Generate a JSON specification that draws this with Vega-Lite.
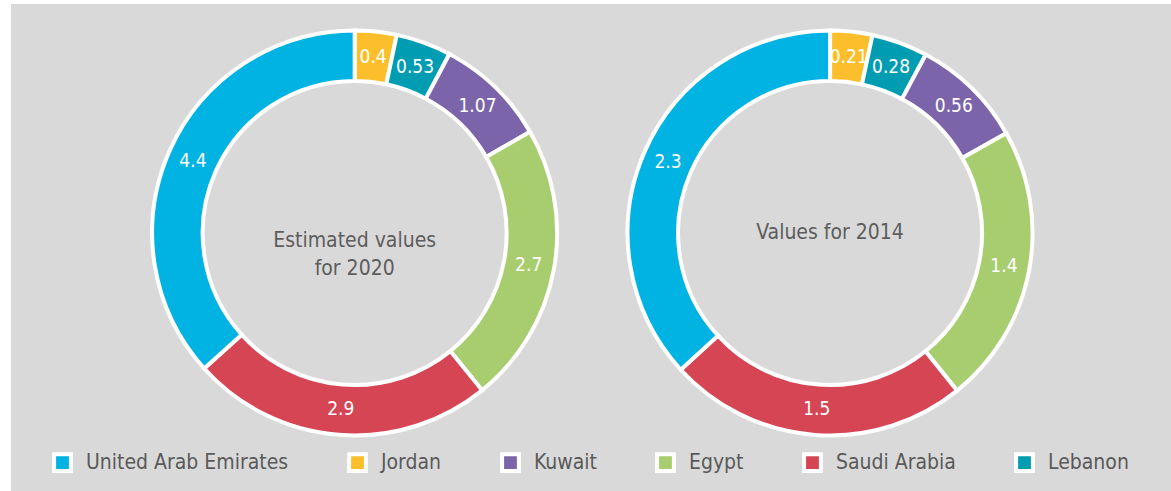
{
  "$schema": "https://vega.github.io/schema/vega-lite/v6.json",
  "width": 1171,
  "height": 491,
  "autosize": {"type": "fit", "contains": "padding"},
  "padding": {"left": 11, "top": 4, "right": 0, "bottom": 0},
  "background": "white",
  "config": {
    "view": {"stroke": null, "fill": "#d9d9d9"},
    "font": "'Liberation Sans Narrow', 'DejaVu Sans Condensed', 'DejaVu Sans', sans-serif"
  },
  "data": {
    "values": [
      {"panel": "2020", "country": "Jordan", "value": 0.4, "rank": 1},
      {"panel": "2020", "country": "Lebanon", "value": 0.53, "rank": 2},
      {"panel": "2020", "country": "Kuwait", "value": 1.07, "rank": 3},
      {"panel": "2020", "country": "Egypt", "value": 2.7, "rank": 4},
      {"panel": "2020", "country": "Saudi Arabia", "value": 2.9, "rank": 5},
      {"panel": "2020", "country": "United Arab Emirates", "value": 4.4, "rank": 6},
      {"panel": "2014", "country": "Jordan", "value": 0.21, "rank": 1},
      {"panel": "2014", "country": "Lebanon", "value": 0.28, "rank": 2},
      {"panel": "2014", "country": "Kuwait", "value": 0.56, "rank": 3},
      {"panel": "2014", "country": "Egypt", "value": 1.4, "rank": 4},
      {"panel": "2014", "country": "Saudi Arabia", "value": 1.5, "rank": 5},
      {"panel": "2014", "country": "United Arab Emirates", "value": 2.3, "rank": 6}
    ]
  },
  "encoding": {
    "x": {"field": "panel", "type": "nominal", "scale": {"type": "point", "domain": ["2020", "2014"], "padding": 0.72, "align": 0.502}, "axis": null},
    "y": {"datum": "c", "type": "nominal", "scale": {"type": "point", "align": 0.4702}, "axis": null}
  },
  "layer": [
    {
      "transform": [
        {"stack": "value", "groupby": ["panel"], "sort": [{"field": "rank", "order": "ascending"}], "offset": "normalize", "as": ["s0", "s1"]}
      ],
      "mark": {"type": "arc", "innerRadius": 152, "outerRadius": 202.5, "stroke": "white", "strokeWidth": 4},
      "encoding": {
        "theta": {"field": "s0", "type": "quantitative", "scale": {"domain": [0, 1]}},
        "theta2": {"field": "s1"},
        "color": {
          "field": "country",
          "type": "nominal",
          "scale": {
            "domain": ["United Arab Emirates", "Jordan", "Kuwait", "Egypt", "Saudi Arabia", "Lebanon"],
            "range": ["#00b3e3", "#fcbf2b", "#7b64a9", "#a8cd6f", "#d54554", "#009db2"]
          },
          "legend": {
            "title": null,
            "orient": "none",
            "direction": "horizontal",
            "legendX": 41,
            "legendY": 448,
            "symbolType": "square",
            "symbolSize": 282,
            "symbolStrokeColor": "white",
            "symbolStrokeWidth": 4,
            "symbolOpacity": 1,
            "labelFont": "'Liberation Sans Narrow', 'DejaVu Sans Condensed', 'DejaVu Sans', sans-serif",
            "labelFontSize": 21,
            "labelColor": "#595959",
            "labelOffset": 13,
            "labelLimit": 400,
            "columnPadding": 52
          }
        }
      }
    },
    {
      "mark": {"type": "text", "fontSize": 19, "color": "white"},
      "encoding": {
        "theta": {"field": "value", "type": "quantitative", "stack": "normalize", "scale": {"domain": [0, 1]}},
        "order": {"field": "rank", "type": "quantitative"},
        "radius": {"field": "panel", "type": "nominal", "scale": {"type": "point", "range": [177, 177]}},
        "text": {"field": "value", "type": "nominal"}
      }
    },
    {
      "data": {"values": [{"panel": "2020", "title": "Estimated values|for 2020"}]},
      "mark": {"type": "text", "lineBreak": "|", "fontSize": 21, "lineHeight": 28.5, "color": "#5d5d5d", "dy": 8},
      "encoding": {"text": {"field": "title", "type": "nominal"}}
    },
    {
      "data": {"values": [{"panel": "2014", "title": "Values for 2014"}]},
      "mark": {"type": "text", "fontSize": 21, "color": "#5d5d5d", "dy": 0},
      "encoding": {"text": {"field": "title", "type": "nominal"}}
    }
  ]
}
